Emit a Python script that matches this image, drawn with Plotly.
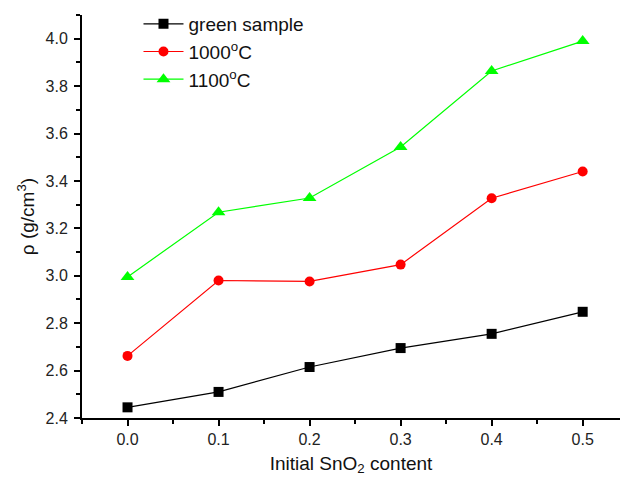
import plotly.graph_objects as go

sno2 = [0.0, 0.1, 0.2, 0.3, 0.4, 0.5]
green_sample = [2.445, 2.51, 2.615, 2.695, 2.755, 2.848]
t1000 = [2.662, 2.98, 2.976, 3.047, 3.327, 3.44]
t1100 = [2.995, 3.268, 3.328, 3.543, 3.864, 3.99]

names = ["green sample", "1000<sup>o</sup>C", "1100<sup>o</sup>C"]
colors = ["#000000", "#FF0000", "#00FF00"]
symbols = ["square", "circle", "triangle-up"]
series = [green_sample, t1000, t1100]

fig = go.Figure()
for nm, c, s, ys in zip(names, colors, symbols, series):
    fig.add_trace(go.Scatter(
        x=sno2, y=ys, mode="lines+markers", name=nm,
        line=dict(color=c, width=1.2),
        marker=dict(color=c, symbol=s, size=10 if s != "triangle-up" else 12),
    ))

axis_common = dict(
    showline=True, linecolor="black", linewidth=2,
    ticks="outside", ticklen=6, tickwidth=1.5, tickcolor="black",
    showgrid=False, zeroline=False,
    tickfont=dict(family="Liberation Sans, Arial", size=16, color="#222"),
)

fig.update_layout(
    width=620, height=480,
    margin=dict(l=82, r=0, t=15, b=62),
    plot_bgcolor="white", paper_bgcolor="white",
    font=dict(family="Liberation Sans, Arial", color="#111"),
    xaxis=dict(
        range=[-0.05, 0.541], tickvals=[0, 0.1, 0.2, 0.3, 0.4, 0.5],
        ticktext=["0.0", "0.1", "0.2", "0.3", "0.4", "0.5"],
        minor=dict(dtick=0.05, tick0=0, ticks="outside", ticklen=4, tickcolor="black", tickwidth=1.5),
        title=dict(text="Initial SnO<sub>2</sub> content", font=dict(size=19), standoff=9),
        **axis_common,
    ),
    yaxis=dict(
        range=[2.4, 4.1], dtick=0.2, tick0=2.4, tickformat=".1f",
        minor=dict(dtick=0.1, tick0=2.4, ticks="outside", ticklen=4, tickcolor="black", tickwidth=1.5),
        title=dict(text="ρ (g/cm<sup>3</sup>)", font=dict(size=19), standoff=6),
        ticklabelstandoff=3,
        **axis_common,
    ),
    legend=dict(
        x=0.105, y=1.025, xanchor="left", yanchor="top",
        bgcolor="rgba(0,0,0,0)", font=dict(size=19, color="#111"),
        tracegroupgap=0, itemwidth=40,
    ),
    showlegend=True,
)

fig.write_html("out.html")
